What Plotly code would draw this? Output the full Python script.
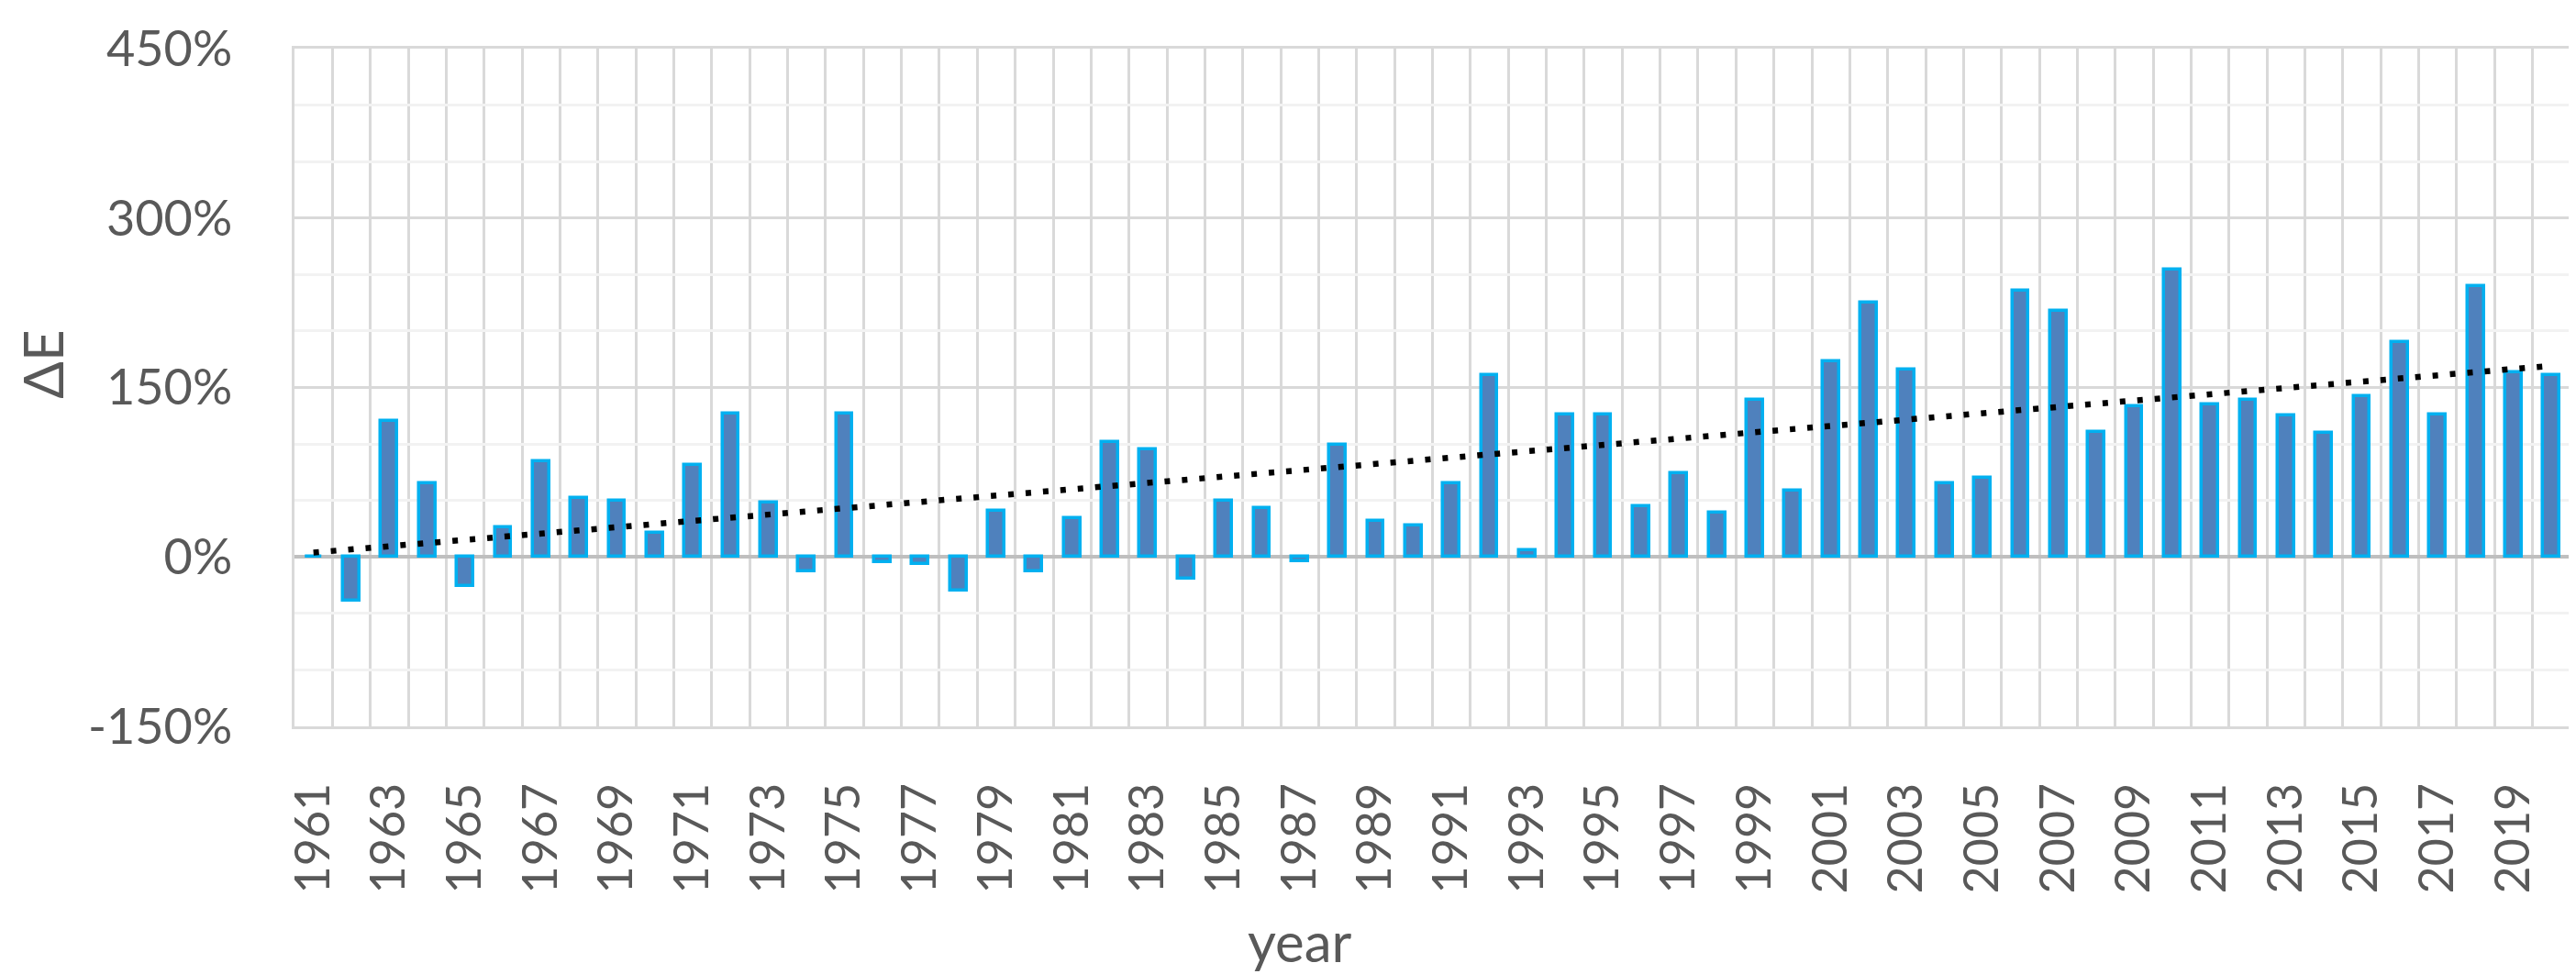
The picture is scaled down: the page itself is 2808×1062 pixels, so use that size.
import numpy as np
import plotly.graph_objects as go

# ---- data ----
years = list(range(1961, 2021))
delta_e = [0, -39, 120, 65, -26, 26, 85, 52, 50, 21, 81, 127, 48, -13, 127,
           -5, -6, -30, 41, -13, 34, 102, 95, -19, 50, 43, -4, 99, 32, 28,
           65, 161, 6, 126, 126, 45, 74, 39, 139, 59, 173, 225, 166, 65, 70,
           236, 218, 111, 133, 254, 135, 139, 125, 110, 142, 190, 126, 240, 163, 161]
x_tick_years = years[::2]
x_tick_text = [str(y) for y in x_tick_years]
y_tick_vals = [-150, 0, 150, 300, 450]
y_tick_text = ["-150%", "0%", "150%", "300%", "450%"]

# linear trendline (least squares, like Excel's linear trendline)
slope, intercept = np.polyfit(years, delta_e, 1)
trend = [slope * y + intercept for y in years]

FONT = "Lato"
TXT = "#595959"

fig = go.Figure()
fig.add_trace(go.Bar(
    x=years, y=delta_e, width=0.43,
    marker=dict(color="#4F81BD", line=dict(color="#00B0F0", width=3.5)),
    showlegend=False,
))
fig.add_trace(go.Scatter(
    x=years, y=trend, mode="lines",
    line=dict(color="black", width=6.5, dash="6px,13px"),
    showlegend=False,
))

fig.update_layout(
    width=2808, height=1062,
    margin=dict(l=313, r=11, t=37, b=278),
    paper_bgcolor="white", plot_bgcolor="white",
    font=dict(family=FONT, color=TXT, size=52),
    bargap=0,
)
fig.update_xaxes(
    type="linear", range=[1960.5, 2020.5],
    tickmode="array", tickvals=x_tick_years, ticktext=x_tick_text,
    tickangle=-90, tickfont=dict(size=52, color=TXT, family=FONT),
    showgrid=False, zeroline=False,
    ticks="", ticklabelstandoff=38,
    minor=dict(tick0=1960.5, dtick=1, showgrid=True, gridcolor="#D9D9D9", gridwidth=3),
    showline=True, linecolor="#D9D9D9", linewidth=3, mirror=True,
)
fig.update_yaxes(
    range=[-150, 450],
    tickmode="array", tickvals=y_tick_vals, ticktext=y_tick_text,
    tickfont=dict(size=54, color=TXT, family=FONT),
    showgrid=True, gridcolor="#D9D9D9", gridwidth=3,
    minor=dict(tick0=0, dtick=50, showgrid=True, gridcolor="#F2F2F2", gridwidth=3),
    zeroline=True, zerolinecolor="#BFBFBF", zerolinewidth=3.5,
    ticks="", ticklabelstandoff=54,
    showline=True, linecolor="#D9D9D9", linewidth=3, mirror=True,
)

fig.add_annotation(
    text="ΔE", xref="paper", yref="paper", x=-0.1107, y=0.534,
    xanchor="center", yanchor="middle", textangle=-90, showarrow=False,
    font=dict(size=60, color=TXT, family=FONT),
)
fig.add_annotation(
    text="year", xref="paper", yref="paper", x=0.4416, y=-0.316,
    xanchor="center", yanchor="middle", showarrow=False,
    font=dict(size=60, color=TXT, family=FONT),
)

fig.write_html("out.html")
